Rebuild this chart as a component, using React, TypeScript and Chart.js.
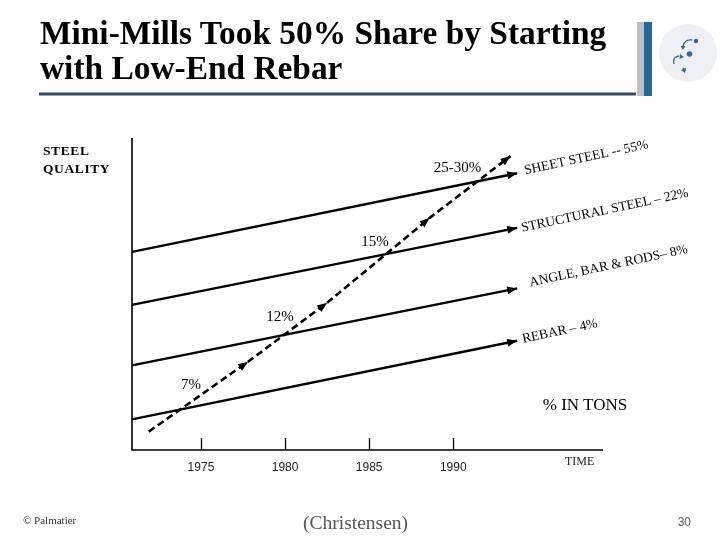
import React, { useEffect, useRef } from "react";
import { Chart, registerables } from "chart.js";

Chart.register(...registerables);

// ---- data ----
const tickYears = [1975, 1980, 1985, 1990];
const xMinYear = 1970.9;
const xMaxYear = 1998.9;
const segmentNames = [
  "SHEET STEEL -- 55%",
  "STRUCTURAL STEEL \u2013 22%",
  "ANGLE, BAR & RODS\u2013 8%",
  "REBAR \u2013 4%",
];
const segmentStartYear = 1970.9;
const segmentEndYear = 1993.8;
const segmentStartQuality = [63.5, 46.5, 27.1, 9.8];
const segmentEndQuality = [88.7, 71.2, 51.8, 35.0];
const miniMillYears = [1971.9, 1977.8, 1982.5, 1988.6, 1993.4];
const miniMillQuality = [5.9, 28.3, 47.2, 74.4, 94.2];
const shareLabels = ["7%", "12%", "15%", "25-30%"];
const shareYears = [1974.4, 1979.7, 1985.35, 1990.25];
const shareQuality = [20.8, 42.5, 66.8, 90.3];

// ---- layout (not data) ----
const segmentLabelOffsets = [
  [8, 1],
  [5, 4],
  [13, -2],
  [6, 2],
];
const SEG_LABEL_ANGLE = (-12 * Math.PI) / 180;

function drawArrow(ctx: CanvasRenderingContext2D, x0: number, y0: number, x1: number, y1: number, len: number, half: number) {
  const a = Math.atan2(y1 - y0, x1 - x0);
  const bx = x1 - len * Math.cos(a);
  const by = y1 - len * Math.sin(a);
  ctx.beginPath();
  ctx.moveTo(x1, y1);
  ctx.lineTo(bx + half * Math.sin(a), by - half * Math.cos(a));
  ctx.lineTo(bx - half * Math.sin(a), by + half * Math.cos(a));
  ctx.closePath();
  ctx.fill();
}

const slidePlugin = {
  id: "slideDecor",
  beforeDatasetsDraw(chart: any) {
    const { ctx, chartArea, scales } = chart;
    const xs = scales.x;
    ctx.save();
    ctx.strokeStyle = "#000";
    ctx.lineWidth = 1.6;
    ctx.beginPath();
    ctx.moveTo(chartArea.left, chartArea.top);
    ctx.lineTo(chartArea.left, chartArea.bottom);
    ctx.lineTo(chartArea.right, chartArea.bottom);
    ctx.stroke();
    ctx.lineWidth = 1.3;
    tickYears.forEach((t) => {
      const px = Math.round(xs.getPixelForValue(t)) + 0.5;
      ctx.beginPath();
      ctx.moveTo(px, chartArea.bottom - 12);
      ctx.lineTo(px, chartArea.bottom);
      ctx.stroke();
    });
    ctx.fillStyle = "#222";
    ctx.font = "12px 'Liberation Sans', Arial, sans-serif";
    ctx.textAlign = "center";
    ctx.textBaseline = "alphabetic";
    tickYears.forEach((t) => {
      ctx.fillText(String(t), xs.getPixelForValue(t), chartArea.bottom + 21);
    });
    ctx.restore();
  },
  afterDatasetsDraw(chart: any) {
    const { ctx, scales } = chart;
    const xs = scales.x;
    const ys = scales.y;
    ctx.save();
    ctx.fillStyle = "#000";
    // solid line arrowheads
    for (let i = 0; i < segmentNames.length; i++) {
      const pts = chart.getDatasetMeta(i).data;
      const p0 = pts[pts.length - 2];
      const p1 = pts[pts.length - 1];
      drawArrow(ctx, p0.x, p0.y, p1.x, p1.y, 10, 4);
    }
    // dashed mini-mill arrows
    const mm = chart.getDatasetMeta(segmentNames.length).data;
    for (let j = 1; j < mm.length; j++) {
      drawArrow(ctx, mm[j - 1].x, mm[j - 1].y, mm[j].x, mm[j].y, 10, 4);
    }
    // segment labels
    ctx.font = "13.5px 'Liberation Serif', 'Times New Roman', serif";
    ctx.fillStyle = "#000";
    ctx.textAlign = "left";
    ctx.textBaseline = "alphabetic";
    for (let i = 0; i < segmentNames.length; i++) {
      const pts = chart.getDatasetMeta(i).data;
      const p1 = pts[pts.length - 1];
      ctx.save();
      ctx.translate(p1.x + segmentLabelOffsets[i][0], p1.y + segmentLabelOffsets[i][1]);
      ctx.rotate(SEG_LABEL_ANGLE);
      ctx.fillText(segmentNames[i], 0, 0);
      ctx.restore();
    }
    // share labels
    ctx.font = "15px 'Liberation Serif', 'Times New Roman', serif";
    ctx.textAlign = "center";
    ctx.textBaseline = "middle";
    for (let i = 0; i < shareLabels.length; i++) {
      ctx.fillText(shareLabels[i], xs.getPixelForValue(shareYears[i]), ys.getPixelForValue(shareQuality[i]));
    }
    ctx.restore();
  },
};

function ChartCanvas() {
  const ref = useRef<HTMLCanvasElement | null>(null);
  useEffect(() => {
    if (!ref.current) return;
    const solid = segmentNames.map((name, i) => ({
      label: name,
      data: [
        { x: segmentStartYear, y: segmentStartQuality[i] },
        { x: segmentEndYear, y: segmentEndQuality[i] },
      ],
      showLine: true,
      borderColor: "#000",
      borderWidth: 2.4,
      pointRadius: 0,
      tension: 0,
      clip: false as any,
    }));
    const dashed = {
      label: "Mini-mills",
      data: miniMillYears.map((yr, i) => ({ x: yr, y: miniMillQuality[i] })),
      showLine: true,
      borderColor: "#000",
      borderWidth: 2.6,
      borderDash: [7, 4],
      pointRadius: 0,
      tension: 0,
      clip: false as any,
    };
    const chart = new Chart(ref.current, {
      type: "scatter",
      data: { datasets: [...solid, dashed] as any },
      options: {
        responsive: false,
        animation: false,
        devicePixelRatio: 1,
        layout: { padding: { left: 132, top: 138, right: 117, bottom: 90 } },
        plugins: { legend: { display: false }, tooltip: { enabled: false }, title: { display: false } },
        scales: {
          x: { type: "linear", min: xMinYear, max: xMaxYear, display: false },
          y: { type: "linear", min: 0, max: 100, display: false },
        },
      },
      plugins: [slidePlugin as any],
    });
    return () => chart.destroy();
  }, []);
  return <canvas ref={ref} width={720} height={540} style={{ position: "absolute", left: 0, top: 0, width: 720, height: 540 }} />;
}

const serif = "'Liberation Serif', 'Times New Roman', serif";
const sans = "'Liberation Sans', Arial, sans-serif";

export default function App() {
  const abs = (s: React.CSSProperties): React.CSSProperties => ({ position: "absolute", margin: 0, whiteSpace: "nowrap", ...s });
  return (
    <div style={{ position: "absolute", left: 0, top: 0, width: 720, height: 540, background: "#fff", overflow: "hidden" }}>
      <svg width={720} height={540} style={{ position: "absolute", left: 0, top: 0 }}>
        <rect x={39} y={92.5} width={597} height={3} fill="#2c4d70" />
        <rect x={637} y={22} width={7} height={74} fill="#bfbfbf" />
        <rect x={644} y={22} width={8} height={74} fill="#1f6a9a" />
        <circle cx={688} cy={53} r={29} fill="#eef0f3" />
        <g stroke="#2a6a9a" strokeWidth={1.3} fill="none">
          <path d="M692 40 Q684 39 683 47" />
          <path d="M679 56 Q672 57 674 64" />
          <path d="M683 68 L685 71" />
        </g>
        <g fill="#2a6a9a">
          <circle cx={696} cy={41} r={2.2} />
          <circle cx={689.5} cy={54} r={2.8} />
          <path d="M680.5 46 L685.5 46 L683 50 Z" />
          <path d="M680 54 L684 57 L679.5 59 Z" />
          <path d="M681 70 L686 68 L685 73 Z" />
        </g>
      </svg>
      <ChartCanvas />
      <div style={abs({ left: 40, top: 14.7, fontFamily: serif, fontWeight: 700, fontSize: 33.4, lineHeight: "35px", color: "#000" })}>
        Mini-Mills Took 50% Share by Starting
        <br />
        with Low-End Rebar
      </div>
      <div style={abs({ left: 43, top: 142.2, fontFamily: serif, fontWeight: 700, fontSize: 13.5, lineHeight: "17.5px", letterSpacing: "0.6px", color: "#000" })}>
        STEEL
        <br />
        QUALITY
      </div>
      <div style={abs({ left: 535, top: 394.9, width: 100, textAlign: "center", fontFamily: serif, fontSize: 17, lineHeight: "20px", color: "#000" })}>
        % IN TONS
      </div>
      <div style={abs({ left: 565, top: 454.7, fontFamily: serif, fontSize: 12, lineHeight: "13px", color: "#222" })}>TIME</div>
      <div style={abs({ left: 23, top: 513.8, fontFamily: serif, fontSize: 11, lineHeight: "13px", color: "#333" })}>© Palmatier</div>
      <div style={abs({ left: 303, top: 512.4, fontFamily: serif, fontSize: 19.5, lineHeight: "22px", color: "#555" })}>(Christensen)</div>
      <div style={abs({ left: 641, top: 514.5, width: 50, textAlign: "right", fontFamily: sans, fontSize: 12, lineHeight: "14px", color: "#555" })}>30</div>
    </div>
  );
}
